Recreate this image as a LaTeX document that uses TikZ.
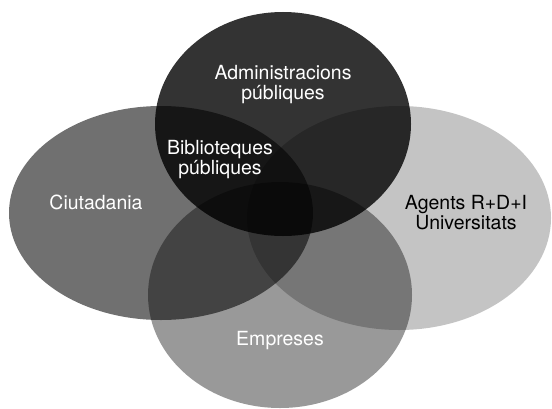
\documentclass[tikz,border=0pt]{standalone}
\usepackage{fontspec}
\setmainfont{TeX Gyre Heros}
\begin{document}
\begin{tikzpicture}[x=0.75pt, y=0.75pt,
  set/.style={fill=black, fill opacity=#1, draw=none},
  lbl/.style={font=\fontsize{14.6}{15}\selectfont, align=center, text=white, inner sep=0pt}]
\useasboundingbox (0,0) rectangle (552,408);
% the four sets
\fill[set=0.8]  (283,284) ellipse[x radius=128, y radius=112];
\fill[set=0.56] (161,195) ellipse[x radius=152, y radius=107];
\fill[set=0.23] (399,190) ellipse[x radius=152, y radius=112];
\fill[set=0.4]  (280,113) ellipse[x radius=132, y radius=113];
% labels
\node[lbl] (admin) at (283,323) {Administracions\\públiques};
\node[lbl] (bib) at (220,248) {Biblioteques\\públiques};
\node[lbl] (ciut) at (96,206) {Ciutadania};
\node[lbl, text=black] (agents) at (466,195) {Agents R+D+I\\Universitats};
\node[lbl] (emp) at (280,67) {Empreses};
\end{tikzpicture}
\end{document}
